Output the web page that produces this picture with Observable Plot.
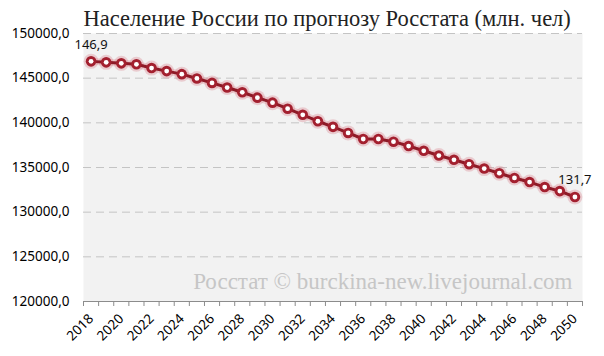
<!DOCTYPE html>
<html>
<head>
<meta charset="utf-8">
<script src="https://cdn.jsdelivr.net/npm/d3@7"></script>
<script src="https://cdn.jsdelivr.net/npm/@observablehq/plot@0.6"></script>
<style>
  html, body { margin: 0; padding: 0; background: #fff; }
  #chart { width: 604px; height: 356px; }
</style>
</head>
<body>
<div id="chart"></div>
<script>
const years = [2018,2019,2020,2021,2022,2023,2024,2025,2026,2027,2028,2029,2030,2031,2032,2033,
  2034,2035,2036,2037,2038,2039,2040,2041,2042,2043,2044,2045,2046,2047,2048,2049,2050];
const population = [146880,146770,146660,146550,146130,145790,145450,144970,144470,143950,143420,142820,
  142260,141580,140900,140180,139550,138870,138190,138190,137890,137400,136870,136340,135860,135370,
  134880,134360,133830,133370,132810,132360,131700];
const yTicks = [120000,125000,130000,135000,140000,145000,150000];
const xLabelYears = [2018,2020,2022,2024,2026,2028,2030,2032,2034,2036,2038,2040,2042,2044,2046,2048,2050];
const endLabels = ["146,9", "131,7"];
const title = "Население России по прогнозу Росстата (млн. чел)";
const watermark = "Росстат © burckina-new.livejournal.com";

const data = years.map((year, i) => ({year, value: population[i]}));
const ends = [
  {year: years[0], value: population[0], label: endLabels[0]},
  {year: years[years.length - 1], value: population[population.length - 1], label: endLabels[1]}
];
const boundaries = [...years.map(y => y - 0.5), years[years.length - 1] + 0.5];
const fmt = d => d.toFixed(1).replace(".", ",");
const red = "#a3202f";

const chart = Plot.plot({
  width: 604,
  height: 356,
  marginLeft: 83,
  marginRight: 22,
  marginTop: 33,
  marginBottom: 55,
  style: {fontFamily: "'Noto Sans', sans-serif", fontSize: "13px", color: "#000", background: "#fff"},
  x: {type: "linear", domain: [years[0] - 0.5, years[years.length - 1] + 0.5]},
  y: {domain: [120000, 150000]},
  marks: [
    Plot.frame({fill: "#f2f2f2", stroke: null}),
    Plot.ruleY(yTicks.slice(1), {stroke: "#c4c4c4", strokeWidth: 1, strokeDasharray: "8,5"}),
    Plot.text([watermark], {frameAnchor: "bottom-right", dx: -10, dy: -13, text: d => d,
      fontFamily: "'Liberation Serif', serif", fontSize: 23, fill: "#c6c6c6", textAnchor: "end", lineAnchor: "bottom"}),
    Plot.text([title], {frameAnchor: "top-left", dx: 0, dy: -8, text: d => d,
      fontFamily: "'Liberation Serif', serif", fontSize: 22.5, fill: "#222", textAnchor: "start", lineAnchor: "bottom"}),
    Plot.axisY({ticks: yTicks, tickSize: 0, tickPadding: 14, tickFormat: fmt, fontSize: 13.5, label: null}),
    Plot.ruleY([120000], {stroke: "#8c8c8c", strokeWidth: 1.2}),
    Plot.axisX({ticks: boundaries, tickSize: 5, tickFormat: () => "", stroke: "#8c8c8c", label: null}),
    Plot.axisX({ticks: xLabelYears, tickSize: 0, tickPadding: 15, tickRotate: -45, tickFormat: d => String(d),
      fontSize: 13.5, label: null}),
    Plot.line(data, {x: "year", y: "value", stroke: "#e3a3aa", strokeWidth: 7, strokeOpacity: 0.45}),
    Plot.dot(data, {x: "year", y: "value", r: 7.5, fill: "#d9848e", fillOpacity: 0.35, stroke: null}),
    Plot.line(data, {x: "year", y: "value", stroke: "#8e1a27", strokeWidth: 3}),
    Plot.dot(data, {x: "year", y: "value", r: 5.3, fill: red, stroke: null}),
    Plot.dot(data, {x: "year", y: "value", r: 2.4, fill: "#fff", stroke: null}),
    Plot.text(ends, {x: "year", y: "value", text: "label", dy: -17, fontSize: 13, fill: "#111"})
  ]
});
document.getElementById("chart").append(chart);
</script>
</body>
</html>
